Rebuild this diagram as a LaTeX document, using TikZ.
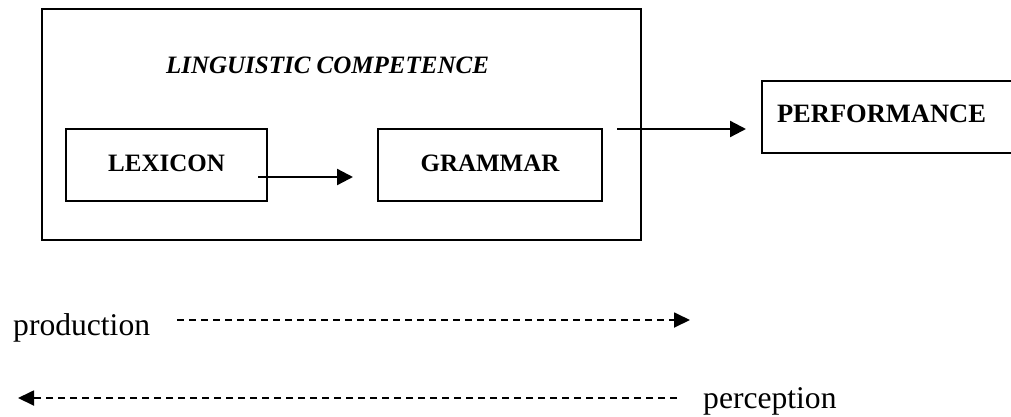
\documentclass[tikz,border=0pt]{standalone}
\usepackage{fontspec}
\setmainfont{Liberation Serif}
\usetikzlibrary{arrows.meta,calc}
\begin{document}
\begin{tikzpicture}[x=1pt,y=-1pt,
  box/.style={draw, line width=2.6pt, inner sep=0pt, outer sep=0pt,
    font=\fontsize{25}{30}\selectfont\bfseries, text height=16.5pt, text depth=4.5pt},
  flow/.style={line width=2.3pt, -{Triangle[length=16pt,width=16pt]}},
  route/.style={line width=1.8pt, dash pattern=on 7pt off 5pt,
    -{Triangle[length=16pt,width=15pt]}},
  word/.style={inner sep=0pt, anchor=base west, font=\fontsize{31.6}{36}\selectfont}]
\useasboundingbox (0,0) rectangle (1011,416);
\clip (0,0) rectangle (1011,416);

% competence frame with its two components
\node[box, minimum width=599pt, minimum height=231pt] (competence) at (341.5,124.5) {};
\node[inner sep=0pt, anchor=base, font=\fontsize{25}{30}\selectfont\bfseries\itshape]
  (title) at (327.5,73) {LINGUISTIC COMPETENCE};
\node[box, minimum width=201pt, minimum height=72pt] (lexicon) at (166.5,165) {LEXICON};
\node[box, minimum width=224pt, minimum height=72pt] (grammar) at (490,165) {GRAMMAR};

% performance box, running off the right edge
\node[box, anchor=west, minimum height=72pt, inner xsep=15pt, text width=223pt, align=left,
  font=\fontsize{26.5}{30}\selectfont\bfseries, text height=17.5pt, text depth=7.5pt]
  (performance) at (762,117) {PERFORMANCE};

% solid connectors
\draw[flow] ($(lexicon.east)+(-9,12)$) -- ($(grammar.west)+(-25,12)$);
\draw[flow] ($(competence.east)+(-24,4.5)$) -- ($(performance.west)+(-16,12)$);

% direction of processing
\node[word] (production) at (13,335) {production};
\coordinate (prodEnd) at (690,320);
\draw[route] ($(production.base east)+(27,-15)$) -- (prodEnd);

\node[word] (perception) at (703,408) {perception};
\coordinate (percEnd) at (18,398);
\draw[route] ($(perception.base west)+(-26,-10)$) -- (percEnd);
\end{tikzpicture}
\end{document}
